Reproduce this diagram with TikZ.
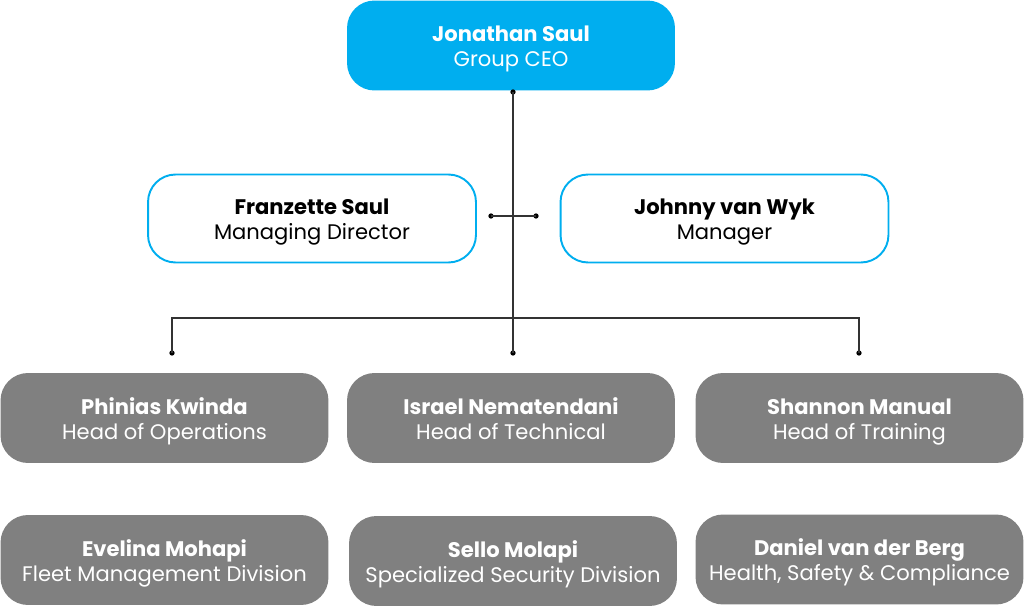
\documentclass[tikz,border=0pt]{standalone}
\usepackage{fontspec}
\setmainfont{Poppins}
\usetikzlibrary{positioning}
\definecolor{ceoblue}{HTML}{00AEEF}
\definecolor{staffgray}{HTML}{808080}
\definecolor{linegray}{HTML}{333333}
\newcommand\cardtext[2]{\rule{0pt}{13.7pt}\textbf{#1}\\#2\rule[-3.5pt]{0pt}{3.5pt}}
\tikzset{
  card/.style={rectangle, rounded corners=0.55cm, minimum width=6.56cm,
    minimum height=1.8cm, align=center, inner sep=0pt, outer sep=0pt,
    font=\fontsize{12}{14.2}\selectfont},
  ceocard/.style={card, fill=ceoblue, text=white},
  deputycard/.style={card, fill=white, draw=ceoblue, line width=1.1pt, text=black},
  headcard/.style={card, fill=staffgray, text=white},
  dot/.style={circle, fill=black, inner sep=0pt, minimum size=3pt},
  link/.style={draw=linegray, line width=0.7pt}
}
\begin{document}
\begin{tikzpicture}[x=0.02cm,y=-0.02cm]
\useasboundingbox (0,0) rectangle (1024,607);

% top
\node[ceocard] (ceo) at (511,45.5) {\cardtext{Jonathan Saul}{Group CEO}};

% second row
\node[deputycard, minimum height=1.76cm] (md) at (312,218.5) {\cardtext{Franzette Saul}{Managing Director}};
\node[deputycard, minimum height=1.76cm] (mgr) at (724.5,218.5) {\cardtext{Johnny van Wyk}{Manager}};

% heads
\node[headcard] (ops) at (164.5,418) {\cardtext{Phinias Kwinda}{Head of Operations}};
\node[headcard] (tech) at (511,418) {\cardtext{Israel Nematendani}{Head of Technical}};
\node[headcard] (train) at (859.5,418) {\cardtext{Shannon Manual}{Head of Training}};

% divisions
\node[headcard] (fleet) at (164.5,560) {\cardtext{Evelina Mohapi}{Fleet Management Division}};
\node[headcard] (sec) at (513,561) {\cardtext{Sello Molapi}{Specialized Security Division}};
\node[headcard] (hsc) at (859.5,559.5) {\cardtext{Daniel van der Berg}{Health, Safety \& Compliance}};

% connectors
\node[dot] (d0) at (513,92) {};
\coordinate (hub) at (513,318);
\coordinate (hubL) at (172,318);
\coordinate (hubR) at (859,318);
\node[dot] (dL) at (172,353) {};
\node[dot] (dM) at (513,353) {};
\node[dot] (dR) at (859,353) {};
\node[dot] (xL) at (491,216) {};
\node[dot] (xR) at (536,216) {};

\draw[link] (d0.center) -- (dM.center);
\draw[link] (xL.center) -- (xR.center);
\draw[link] (dL.center) -- (hubL) -- (hubR) -- (dR.center);

\end{tikzpicture}
\end{document}
